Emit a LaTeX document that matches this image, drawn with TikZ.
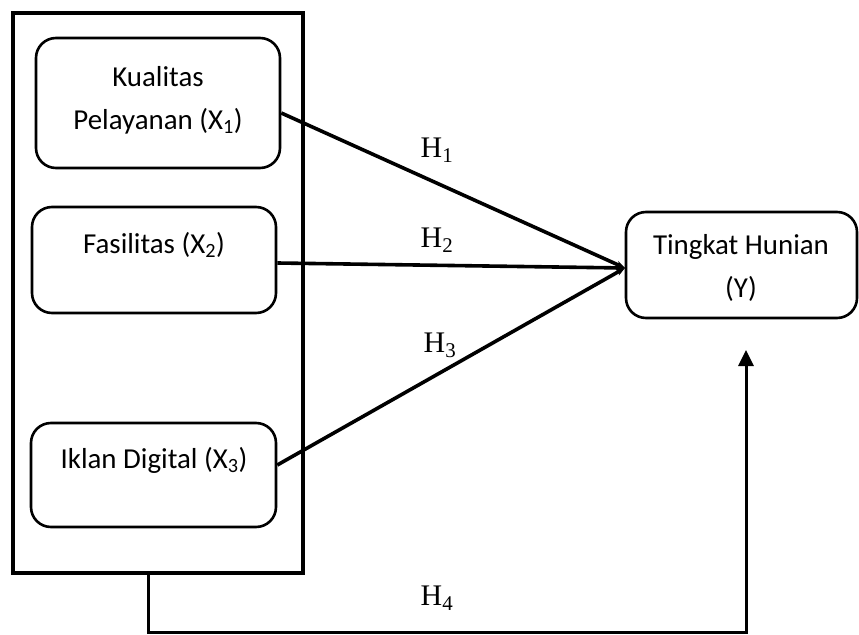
\documentclass[tikz,border=0pt]{standalone}
\usepackage{fontspec}
\setmainfont{Carlito}
\newfontfamily\serifh{Liberation Serif}
\usetikzlibrary{arrows.meta}
\tikzset{
  rbox/.style={draw, line width=2.6bp, rounded corners=20bp, inner sep=0pt},
  txt/.style={align=center, inner sep=0pt, font=\fontsize{29}{43}\selectfont},
  hlab/.style={inner sep=0pt, font=\serifh\fontsize{30}{36}\selectfont},
  conn/.style={line width=3.6bp, -{Stealth[length=9bp,width=7bp]}},
}
\begin{document}
\begin{tikzpicture}[x=1bp, y=-1bp]
\useasboundingbox (0,0) rectangle (859,635);
% outer frame
\node[draw, line width=3.6bp, minimum width=290bp, minimum height=560bp, inner sep=0pt] (outer) at (158,293) {};
% boxes
\node[rbox, minimum width=244bp, minimum height=130bp] (b1) at (158,103) {};
\node[rbox, minimum width=244bp, minimum height=106bp] (b2) at (154,260) {};
\node[rbox, minimum width=245bp, minimum height=104bp] (b3) at (153.5,475) {};
\node[rbox, minimum width=231bp, minimum height=106bp] (y) at (741.5,265) {};
% texts
\node[txt] (t1) at (158,100) {Kualitas\\Pelayanan (X\textsubscript{1})};
\node[txt] (t2) at (154,245) {Fasilitas (X\textsubscript{2})};
\node[txt] (t3) at (154,460) {Iklan Digital (X\textsubscript{3})};
\node[txt] (ty) at (741,268) {Tingkat Hunian\\(Y)};
% connectors
\coordinate (c) at (625,268);
\draw[conn] ([yshift=-10bp]b1.east) -- (c);
\draw[conn] ([yshift=-3bp]b2.east) -- (c);
\draw[conn] ([yshift=10bp]b3.east) -- (c);
\coordinate (ytip) at (746,350);
\coordinate (bot) at (746,632);
\draw[line width=3bp, -{Triangle[length=16bp,width=15bp]}] ([xshift=-10bp]outer.south) |- (bot) -- (ytip);
% labels
\node[hlab] (h1) at (437,150) {H\textsubscript{1}};
\node[hlab] (h2) at (437,240) {H\textsubscript{2}};
\node[hlab] (h3) at (440,345) {H\textsubscript{3}};
\node[hlab] (h4) at (437,598) {H\textsubscript{4}};
\end{tikzpicture}
\end{document}
